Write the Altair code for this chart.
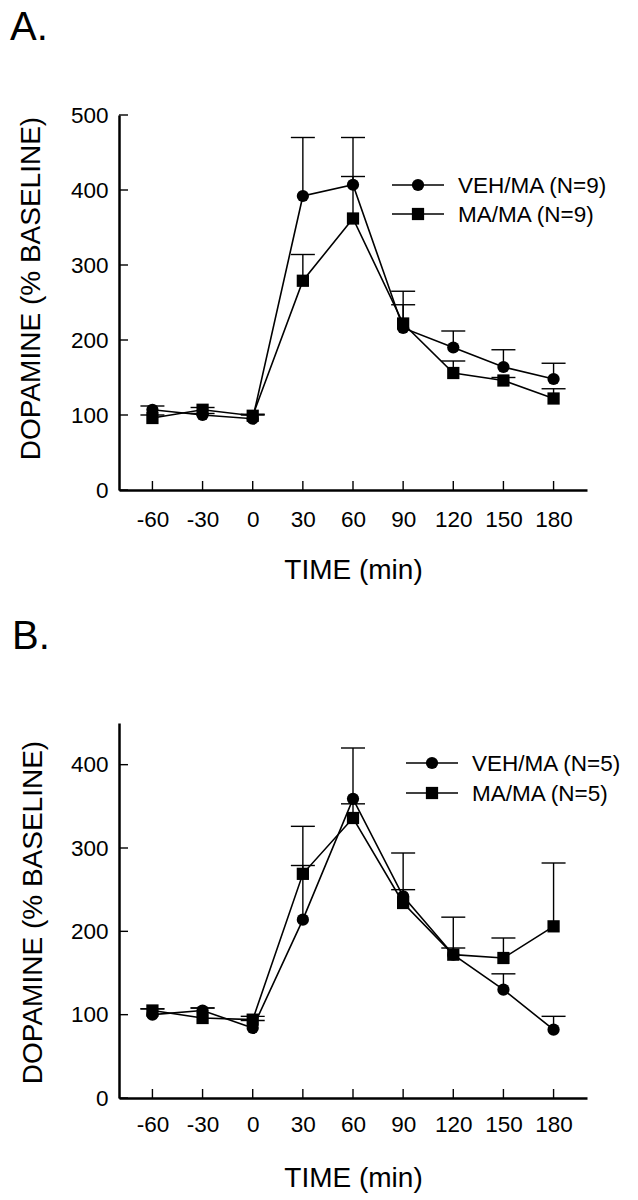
import altair as alt
import pandas as pd

# ---------------- data ----------------
times = [-60, -30, 0, 30, 60, 90, 120, 150, 180]

a_veh = [107, 100, 95, 392, 407, 216, 190, 164, 148]
a_veh_top = [112, 102, 100, 470, 470, 265, 212, 187, 169]
a_ma = [96, 107, 99, 279, 362, 222, 156, 146, 122]
a_ma_top = [100, 110, 101, 314, 418, 247, 172, 150, 135]

b_veh = [100, 105, 84, 214, 359, 242, 172, 130, 82]
b_veh_top = [107, 108, 93, 279, 420, 294, 217, 149, 98]
b_ma = [105, 96, 94, 269, 336, 234, 172, 168, 206]
b_ma_top = [107, 108, 98, 326, 353, 250, 180, 192, 282]

x_ticks = [-60, -30, 0, 30, 60, 90, 120, 150, 180]
a_y_ticks = [0, 100, 200, 300, 400, 500]
b_y_ticks = [0, 100, 200, 300, 400]

a_labels = ["VEH/MA (N=9)", "MA/MA (N=9)"]
b_labels = ["VEH/MA (N=5)", "MA/MA (N=5)"]
series_names = ["VEH/MA", "MA/MA"]
series_shapes = ["circle", "square"]

# ---------------- styling ----------------
FONT = "Liberation Sans"
W, H = 468, 375
X_DOMAIN = [-80, 200]
TICK_PX = 9
XT = "TIME (min)"
YT = "DOPAMINE (% BASELINE)"


def panel(letter, veh, veh_top, ma, ma_top, labels, ymax, yticks,
          lab_pad, ytx, yty, letter_x, letter_y, leg_x, leg_y, leg_dy):
    rows = []
    for name, vals, tops in [(series_names[0], veh, veh_top),
                             (series_names[1], ma, ma_top)]:
        for t, v, tp in zip(times, vals, tops):
            rows.append({"time": t, "value": v, "top": tp, "series": name})
    df = pd.DataFrame(rows)

    xscale = alt.Scale(domain=X_DOMAIN, nice=False, zero=False)
    yscale = alt.Scale(domain=[0, ymax], nice=False, zero=True)

    x_axis = alt.Axis(values=x_ticks, ticks=False, tickSize=0, grid=False,
                      labelExpr="'' + datum.value",
                      labelPadding=lab_pad, labelFont=FONT, labelFontSize=22.5,
                      labelColor="black", labelFlush=False, labelOverlap=False,
                      domainColor="black", domainWidth=2.5,
                      titleFont=FONT, titleFontSize=28, titleFontWeight="normal",
                      titleColor="black", titleY=80, titleBaseline="middle")
    y_axis = alt.Axis(values=yticks, ticks=False, tickSize=0, grid=False,
                      labelPadding=11, labelFont=FONT, labelFontSize=22.5,
                      labelColor="black", labelFlush=False, labelOverlap=False,
                      domainColor="black", domainWidth=2.5,
                      titleFont=FONT, titleFontSize=28, titleFontWeight="normal",
                      titleColor="black", titleX=ytx, titleY=yty,
                      titleAngle=270, titleBaseline="middle", titleAlign="center")

    def X(field):
        return alt.X(field, scale=xscale, axis=x_axis, title=XT)

    def Y(field):
        return alt.Y(field, scale=yscale, axis=y_axis, title=YT)

    base = alt.Chart(df)
    err = base.mark_rule(color="black", strokeWidth=1.4).encode(
        x=X("time:Q"), y=Y("value:Q"), y2="top:Q", detail="series:N")
    caps = base.mark_tick(color="black", orient="horizontal", size=24,
                          thickness=1.4, opacity=1).encode(
        x=X("time:Q"), y=Y("top:Q"))
    lines = base.mark_line(color="black", strokeWidth=1.6).encode(
        x=X("time:Q"), y=Y("value:Q"), detail="series:N")
    pts = base.mark_point(filled=True, size=150, color="black", opacity=1).encode(
        x=X("time:Q"), y=Y("value:Q"),
        shape=alt.Shape("series:N",
                        scale=alt.Scale(domain=series_names, range=series_shapes),
                        legend=None))

    # inward axis ticks
    xt = alt.Chart(pd.DataFrame({"tick": x_ticks})).mark_rule(
        color="black", strokeWidth=1.4).encode(
        x=X("tick:Q"),
        y=alt.YDatum(0, scale=yscale, axis=y_axis, title=YT),
        y2=alt.datum(TICK_PX * ymax / H))
    yt = alt.Chart(pd.DataFrame({"tick": yticks})).mark_rule(
        color="black", strokeWidth=1.4).encode(
        y=Y("tick:Q"),
        x=alt.XDatum(X_DOMAIN[0], scale=xscale, axis=x_axis, title=XT),
        x2=alt.datum(X_DOMAIN[0] + TICK_PX * (X_DOMAIN[1] - X_DOMAIN[0]) / W))

    layers = [err, caps, lines, pts, xt, yt]

    # legend (drawn by hand: line through marker, then label)
    one = pd.DataFrame({"k": [0]})
    for i, (lab, shp) in enumerate(zip(labels, series_shapes)):
        yy = leg_y + leg_dy * i
        layers.append(alt.Chart(one).mark_rule(color="black", strokeWidth=1.6).encode(
            x=alt.value(leg_x), x2=alt.value(leg_x + 52), y=alt.value(yy)))
        layers.append(alt.Chart(one).mark_point(
            shape=shp, filled=True, size=150, color="black", opacity=1).encode(
            x=alt.value(leg_x + 26), y=alt.value(yy)))
        layers.append(alt.Chart(pd.DataFrame({"t": [lab]})).mark_text(
            align="left", baseline="middle", font=FONT, fontSize=22.5,
            color="black").encode(
            text="t:N", x=alt.value(leg_x + 66), y=alt.value(yy + 1)))

    layers.append(alt.Chart(pd.DataFrame({"t": [letter]})).mark_text(
        align="left", baseline="alphabetic", font=FONT, fontSize=40,
        color="black").encode(
        text="t:N", x=alt.value(letter_x), y=alt.value(letter_y)))

    return alt.layer(*layers).properties(width=W, height=H)


pa = panel("A.", a_veh, a_veh_top, a_ma, a_ma_top, a_labels, 500, a_y_ticks,
           18, -88, 173, -109, -75, 273, 70, 29)
pb = panel("B.", b_veh, b_veh_top, b_ma, b_ma_top, b_labels, 450, b_y_ticks,
           15, -86, 189, -107, -74, 287, 40, 30)

chart = alt.vconcat(pa, pb, spacing=33).properties(
    padding={"left": 2, "top": 0, "right": 5, "bottom": 5}
).configure_view(stroke=None)

chart.save("out.html", embed_options={"renderer": "svg", "actions": False})
